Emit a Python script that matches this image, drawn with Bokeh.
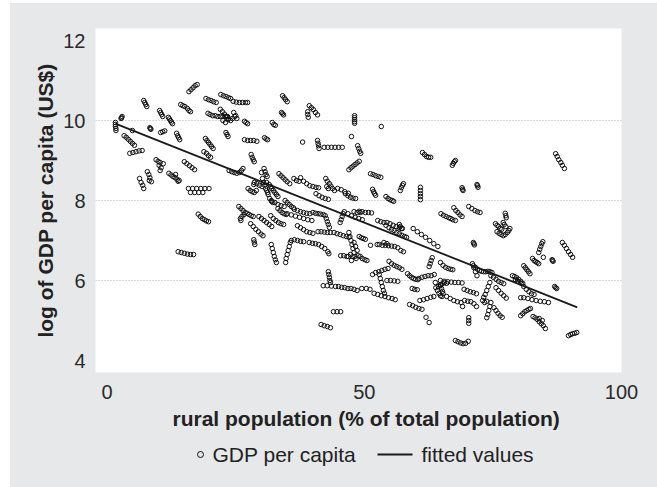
from bokeh.plotting import figure
from bokeh.layouts import column
from bokeh.models import Range1d, FixedTicker, Title, ColumnDataSource
from bokeh.core.properties import value
from bokeh.embed import file_html
from bokeh.resources import INLINE

# Rural population share (%) and log GDP per capita, one line per country series
rural_pct = [
    1.6, 1.6, 1.6, 1.7, 1.7,
    2.7, 2.8, 2.9,
    3.3, 3.7, 4.1, 4.5, 4.9, 5.3, 4.9,
    4.4, 5.0, 5.6, 6.2, 6.8,
    6.3, 6.6, 6.9, 7.1, 7.8, 8.1, 8.3, 8.2, 8.6,
    7.1, 7.3, 7.5, 7.7,
    8.3, 8.4, 8.5,
    9.5, 9.9, 10.3, 10.1, 10.5, 10.3, 10.9,
    10.2, 10.4, 10.6, 10.8,
    10.4, 10.8, 11.2,
    11.9, 12.1, 12.3, 12.5, 12.7,
    12.0, 12.4, 12.8, 13.2, 13.6, 14.0, 13.3, 13.8,
    13.5, 13.7, 13.9, 14.1,
    14.3, 14.7, 15.1, 15.6, 15.9, 16.2,
    15.0, 15.5, 16.0, 16.5, 17.0,
    15.8, 16.6, 17.4, 18.2, 19.0, 19.8, 16.2, 17.0, 17.8, 18.6,
    15.9, 16.3, 16.7, 17.1, 17.5,
    13.8, 14.4, 15.0, 15.6, 16.2, 16.8,
    17.7, 18.1, 18.5, 18.9, 19.3, 19.7,
    19.1, 19.4, 19.7, 20.0, 20.3, 20.6,
    18.8, 19.3, 19.7, 20.1,
    19.2, 19.7, 20.2, 20.7, 21.2,
    19.6, 20.0, 20.5, 21.0, 21.5, 22.0,
    22.1, 22.6, 23.1, 23.6, 24.0,
    22.0, 22.4, 22.8, 23.2, 23.6, 24.0, 24.4, 24.8, 25.2, 22.5, 23.0, 23.5, 24.6, 25.0, 22.5, 23.0, 23.4,
    23.1, 23.3, 23.5,
    24.5, 25.1, 25.7, 26.3, 26.9, 27.3,
    23.7, 24.2, 24.7, 25.2, 25.7, 26.1, 26.4,
    25.6, 26.0, 26.4, 26.8, 27.2, 27.6, 28.0, 28.4, 26.2, 26.0, 25.9, 26.6,
    27.9, 28.4, 28.9, 29.4, 29.9, 30.3,
    28.5, 28.6, 28.7,
    26.7, 27.0, 27.3,
    26.7, 27.3, 27.9, 28.5, 29.1,
    28.0, 28.2, 28.4, 28.6,
    27.4, 27.8, 28.2, 28.6, 29.0, 28.5,
    34.1, 34.4, 34.7, 35.0,
    33.9, 34.1, 34.3,
    32.1, 32.4, 32.7,
    30.6, 30.9, 31.2,
    39.0, 39.0, 39.1,
    39.3, 39.7, 40.1, 40.5, 40.9,
    48.1, 48.1, 48.1, 48.1, 48.1,
    53.3, 47.5, 38.0,
    40.9, 41.0, 41.1, 41.2,
    42.2, 42.9, 43.6, 44.3, 45.0, 45.7,
    48.7, 48.9, 49.1, 49.3,
    47.0, 47.4, 47.8, 48.2, 48.6, 49.0,
    51.2, 51.7, 52.2, 52.7, 53.2,
    61.3, 61.7, 62.1, 62.5, 62.9,
    51.6, 51.8, 52.0, 52.2,
    54.2, 54.6, 55.0, 55.4, 55.7,
    57.0, 57.2, 57.4, 57.6,
    60.9, 60.9, 60.9, 60.9, 60.9,
    46.3, 46.8, 47.3, 47.8, 48.3,
    40.6, 41.2, 41.8, 42.4, 43.0,
    42.5, 42.8, 43.2, 43.5, 43.8, 44.2, 42.7, 43.0,
    44.8, 45.5, 46.2, 46.9,
    37.6, 38.2, 38.8, 39.4, 40.0, 40.6, 41.1,
    33.4, 33.8, 34.2, 34.6, 35.0, 35.5,
    30.0, 30.2, 30.4, 30.6, 30.8, 31.0, 31.2, 31.5, 31.8, 32.0, 32.3, 32.6, 32.9, 33.2, 31.0, 31.3, 31.6, 31.9, 32.2,
    30.5, 30.7, 30.9, 31.1,
    28.6, 29.1, 29.6, 30.1,
    36.3, 36.8, 37.3,
    33.2, 33.6, 34.0, 34.4, 34.8,
    32.0, 32.6, 33.2, 33.8, 34.4,
    35.0, 35.8, 36.6, 37.4, 38.2, 39.0, 39.8,
    40.0, 40.5, 41.0, 41.5, 42.0,
    42.4, 42.6, 42.8, 43.0, 43.2,
    45.3, 45.5, 45.7, 45.9, 46.1,
    46.8, 47.5, 48.2, 48.9, 49.6,
    49.0, 49.6, 50.2, 50.8, 51.4,
    52.6, 53.2, 53.8, 54.4, 55.0, 55.6, 56.2, 56.8, 57.4,
    54.2, 54.8, 55.3, 55.8, 56.3, 56.8, 57.3, 57.8, 58.2,
    56.8, 57.0, 57.2,
    59.5, 60.3, 61.1, 61.9, 62.7, 63.5, 64.3,
    64.9, 65.4, 65.9, 66.4, 66.8, 67.2, 67.7,
    67.4, 67.8, 68.2, 68.6, 69.0,
    70.3, 70.9, 71.5, 72.0, 72.5,
    77.4, 77.5, 77.6,
    75.5, 75.8, 76.1, 76.4, 76.7, 75.8, 76.2, 76.6, 77.0, 77.4, 77.8, 78.1, 78.3, 77.5, 77.2, 77.0,
    71.2, 71.3, 71.4,
    83.9, 84.1, 84.3, 84.5, 84.7,
    88.5, 88.9, 89.3, 89.7, 90.1, 90.5,
    86.5, 86.6, 86.7,
    82.7, 83.0, 83.3, 83.6, 83.9, 84.8,
    81.0, 81.3, 81.6, 81.9, 82.2,
    78.8, 79.2, 79.6, 80.0, 80.4, 80.8, 79.4, 79.8,
    80.5, 81.0, 81.5, 82.0, 82.5, 83.0,
    81.0, 81.8, 82.6, 83.4, 84.2, 85.0, 85.8, 80.4,
    87.0, 87.2, 87.4,
    80.4, 80.8, 81.2, 81.6, 82.0, 82.3,
    82.8, 83.2, 83.6, 84.0, 84.4, 84.8, 85.2, 84.0, 84.6,
    89.7, 90.1, 90.5, 90.9, 91.3,
    87.2, 87.5, 87.8, 88.2, 88.5, 88.9,
    67.1, 67.3, 67.5, 67.7,
    69.0, 69.1, 69.2,
    71.9, 72.0, 72.1,
    64.8, 65.3, 65.8, 66.3, 66.8, 67.2,
    64.8, 65.5, 66.2, 66.9, 67.6, 68.3, 69.0,
    64.8, 65.0, 65.2,
    65.3, 66.0, 66.7, 67.4, 68.1, 68.8, 69.1,
    69.4, 70.0, 70.6, 71.2, 71.8,
    69.5, 70.1, 70.7, 71.3, 71.8,
    70.3, 70.3, 70.3,
    67.7, 68.2, 68.7, 69.2, 69.7, 70.2,
    71.2, 71.6, 72.0, 72.4, 72.8, 73.2, 73.6, 74.0, 74.4, 74.8,
    71.0, 71.3, 71.6, 71.9,
    74.6, 75.1, 75.6, 76.1, 76.6, 77.1,
    74.4, 74.1, 73.8, 73.5, 73.2,
    75.6, 76.1, 76.6, 77.1, 77.6,
    73.0, 73.4, 73.8,
    74.6, 74.4, 74.2, 74.0, 73.8,
    75.2, 75.6, 76.0, 76.4, 76.8,
    31.9, 32.1, 32.3, 32.5, 32.7, 32.9,
    35.6, 35.4, 35.2, 35.0, 34.8, 34.7,
    35.8, 36.4, 37.0, 37.6, 38.2,
    37.0, 37.6, 38.2, 38.8, 39.4, 40.0,
    39.3, 39.9, 40.5, 41.1, 41.7, 42.3, 42.9, 43.1,
    41.0, 41.6, 42.2, 42.8, 43.4,
    44.1, 44.7, 45.3, 45.9, 46.5, 47.0,
    47.0, 47.2, 47.4, 47.6, 47.8, 48.0, 48.2, 48.4, 47.3, 47.8, 48.8, 49.2, 48.6, 48.3, 48.0, 49.6, 50.1, 50.5, 46.9, 47.5,
    49.0, 49.4, 49.8, 50.2,
    45.4, 46.0, 46.6,
    51.2, 52.5,
    52.9, 53.5, 54.1, 54.7, 55.3, 55.9, 56.5, 57.1, 57.6, 53.8, 54.4,
    54.8, 55.3, 55.8, 56.3, 56.8, 57.3,
    51.6, 52.2, 52.8, 53.4, 54.0, 54.6,
    52.9, 53.1, 53.3, 53.5, 53.7, 53.9,
    51.9, 52.6, 53.3, 54.0, 54.7, 55.4, 56.0,
    54.4, 55.1, 55.8, 56.5,
    42.0, 42.8, 43.6, 44.4, 45.0, 45.6, 46.2, 46.8, 47.4, 48.0, 48.6, 49.5, 50.4, 51.1,
    43.0, 43.1, 43.2, 43.3, 43.4,
    44.0, 44.7, 45.4,
    41.6, 42.2, 42.8, 43.4,
    58.8, 59.4, 60.0, 60.6, 61.2,
    60.8, 61.5, 62.2, 62.9, 63.5,
    62.0, 62.6,
    58.4, 58.8, 59.2, 59.6, 60.0, 60.4,
    60.6, 61.2, 61.8, 62.4, 63.0, 63.6, 63.8,
    62.6, 62.8, 63.0, 63.2,
    63.9, 64.2, 64.5, 64.8, 65.1, 64.4, 64.8, 65.2, 65.6, 66.0,
    31.8, 32.3, 32.8, 33.3, 33.8, 34.3,
    29.5, 30.0, 30.5, 31.0, 31.5, 32.0,
    34.6, 35.0, 35.4, 35.8, 36.2,
    36.4, 37.0, 37.6, 38.2, 38.8, 39.4,
    48.0, 48.6, 49.2,
    59.3, 59.8, 60.3,
]

log_gdp = [
    9.95, 9.9, 9.85, 9.8, 9.75,
    10.05, 10.07, 10.1,
    9.62, 9.58, 9.53, 9.48, 9.43, 9.38, 9.75,
    9.18, 9.2, 9.22, 9.24, 9.25,
    8.55, 8.45, 8.38, 8.3, 8.72, 8.65, 8.57, 8.5, 8.47,
    10.5, 10.45, 10.4, 10.35,
    9.82, 9.8, 9.78,
    9.02, 8.98, 8.95, 8.88, 8.82, 8.75, 8.92,
    10.25, 10.2, 10.15, 10.1,
    9.7, 9.72, 9.74,
    10.08, 10.04, 10.0, 9.96, 9.92,
    8.68, 8.64, 8.6, 8.57, 8.53, 8.5, 8.65, 8.48,
    9.68, 9.62, 9.57, 9.52,
    10.4, 10.37, 10.35, 10.3, 10.25, 10.22,
    8.97, 8.92, 8.87, 8.82, 8.77,
    8.3, 8.3, 8.3, 8.3, 8.3, 8.3, 8.2, 8.2, 8.2, 8.2,
    10.72, 10.77, 10.82, 10.87, 10.9,
    6.72, 6.7, 6.68, 6.66, 6.65, 6.65,
    7.66, 7.6, 7.55, 7.52, 7.49, 7.47,
    9.55, 9.5, 9.45, 9.4, 9.35, 9.3,
    9.22, 9.18, 9.12, 9.08,
    10.55, 10.52, 10.5, 10.47, 10.45,
    10.18, 10.15, 10.12, 10.12, 10.1, 10.1,
    10.65, 10.62, 10.6, 10.57, 10.55,
    10.28, 10.22, 10.16, 10.1, 10.05, 10.0, 10.05, 10.1, 10.05, 10.0, 9.95, 10.02, 10.2, 10.12, 10.1, 10.1, 10.1,
    9.7, 9.65, 9.6,
    10.48, 10.46, 10.45, 10.45, 10.45, 10.45,
    8.75, 8.72, 8.7, 8.68, 8.7, 8.75, 8.8,
    7.85, 7.8, 7.75, 7.7, 7.68, 7.65, 7.62, 7.6, 7.6, 7.5, 7.55, 7.65,
    7.42, 7.35, 7.28, 7.22, 7.16, 7.12,
    7.02, 6.96, 6.9,
    9.98, 9.95, 9.92,
    9.52, 9.5, 9.5, 9.5, 9.48,
    9.15, 9.08, 9.02, 8.97,
    8.3, 8.25, 8.22, 8.2, 8.25, 8.4,
    10.62, 10.57, 10.52, 10.47,
    10.2, 10.17, 10.14,
    9.95, 9.9, 9.88,
    9.57, 9.54, 9.52,
    10.22, 10.15, 10.08,
    10.37, 10.32, 10.27, 10.2, 10.14,
    10.12, 10.07, 10.02, 9.97, 9.93,
    9.85, 9.6, 9.46,
    9.5, 9.43, 9.37, 9.3,
    9.33, 9.33, 9.33, 9.33, 9.33, 9.33,
    9.37, 9.3, 9.23, 9.18,
    8.77, 8.82, 8.86, 8.9, 8.94, 8.98,
    8.67, 8.65, 8.62, 8.6, 8.58,
    9.2, 9.15, 9.1, 9.08, 9.08,
    8.28, 8.22, 8.17, 8.13,
    8.1, 8.05, 8.02, 8.0, 7.98,
    8.25, 8.32, 8.38, 8.42,
    8.33, 8.25, 8.17, 8.1, 8.02,
    8.17, 8.12, 8.08, 8.06, 8.05,
    8.17, 8.12, 8.08, 8.05, 8.03,
    8.55, 8.48, 8.42, 8.36, 8.3, 8.25, 8.35, 8.3,
    8.3, 8.27, 8.22, 8.18,
    8.57, 8.48, 8.42, 8.37, 8.35, 8.33, 8.32,
    8.67, 8.62, 8.57, 8.52, 8.47, 8.42,
    8.7, 8.55, 8.45, 8.38, 8.3, 8.25, 8.2, 8.4, 8.35, 8.3, 8.25, 8.2, 8.15, 8.1, 8.45, 8.15, 8.05, 8.0, 7.95,
    8.8, 8.72, 8.65, 8.6,
    8.45, 8.42, 8.38, 8.35,
    8.55, 8.5, 8.48,
    7.8, 7.75, 7.7, 7.67, 7.65,
    7.98, 7.95, 7.9, 7.87, 7.85,
    7.67, 7.64, 7.61, 7.58, 7.55, 7.52, 7.5,
    7.7, 7.68, 7.67, 7.66, 7.65,
    7.62, 7.55, 7.47, 7.4, 7.33,
    7.45, 7.52, 7.6, 7.67, 7.72,
    7.67, 7.62, 7.58, 7.55, 7.52,
    7.73, 7.72, 7.7, 7.7, 7.69,
    7.5, 7.47, 7.45, 7.45, 7.42, 7.38, 7.35, 7.32, 7.3,
    7.38, 7.32, 7.28, 7.25, 7.2, 7.17, 7.13, 7.1, 7.08,
    7.4, 7.35, 7.3,
    7.3, 7.22, 7.15, 7.08, 7.0, 6.92, 6.85,
    7.67, 7.63, 7.6, 7.57, 7.55, 7.52, 7.5,
    7.82, 7.75, 7.7, 7.64, 7.6,
    7.85, 7.8, 7.75, 7.72, 7.7,
    7.68, 7.62, 7.57,
    7.42, 7.38, 7.35, 7.3, 7.28, 7.22, 7.18, 7.15, 7.12, 7.15, 7.2, 7.25, 7.3, 7.35, 7.4, 7.45,
    6.95, 6.92, 6.89,
    6.7, 6.78, 6.85, 6.92, 6.97,
    6.95, 6.88, 6.8, 6.72, 6.65, 6.58,
    6.52, 6.5, 6.48,
    6.55, 6.5, 6.47, 6.45, 6.42, 6.58,
    6.37, 6.32, 6.27, 6.22, 6.17,
    6.12, 6.1, 6.07, 6.03, 5.98, 5.93, 6.02, 5.98,
    5.93, 5.85, 5.78, 5.72, 5.67, 5.65,
    5.57, 5.55, 5.52, 5.5, 5.48, 5.47, 5.45, 5.57,
    5.85, 5.82, 5.8,
    5.12, 5.17, 5.22, 5.25, 5.28, 5.3,
    5.1, 5.07, 5.03, 4.97, 4.92, 4.87, 4.8, 5.05, 5.0,
    4.62, 4.65, 4.67, 4.68, 4.7,
    9.17, 9.1, 9.02, 8.95, 8.88, 8.8,
    8.88, 8.93, 8.97, 9.0,
    8.32, 8.28, 8.25,
    8.4, 8.37, 8.33,
    6.45, 6.38, 6.33, 6.3, 6.28, 6.27,
    6.0, 5.98, 5.97, 5.96, 5.95, 5.95, 5.94,
    5.87, 5.8, 5.73,
    5.67, 5.6, 5.55, 5.5, 5.47, 5.45, 5.35,
    5.78, 5.75, 5.72, 5.7, 5.67,
    5.5, 5.48, 5.47, 5.42, 5.35,
    5.07, 5.0, 4.93,
    4.5, 4.47, 4.44, 4.42, 4.43, 4.48,
    6.37, 6.33, 6.28, 6.25, 6.23, 6.22, 6.22, 6.23, 6.22, 6.2,
    6.42, 6.32, 6.22, 6.12,
    6.12, 6.08, 6.03, 5.98, 5.95, 5.92,
    5.95, 5.85, 5.75, 5.65, 5.58,
    5.82, 5.75, 5.68, 5.62, 5.56,
    5.5, 5.45, 5.48,
    5.45, 5.35, 5.25, 5.15, 5.07,
    5.32, 5.25, 5.18, 5.12, 5.08,
    6.9, 6.8, 6.7, 6.6, 6.52, 6.45,
    6.95, 6.85, 6.75, 6.65, 6.55, 6.45,
    7.0, 7.02, 7.0, 6.98, 6.97,
    7.37, 7.32, 7.27, 7.22, 7.2, 7.18,
    6.95, 6.93, 6.92, 6.9, 6.85, 6.8, 6.72, 6.67,
    7.22, 7.22, 7.21, 7.2, 7.2,
    7.2, 7.17, 7.15, 7.12, 7.1, 7.08,
    7.2, 7.1, 7.0, 6.9, 6.8, 6.7, 6.6, 6.55, 6.65, 6.6, 6.62, 6.6, 6.75, 6.85, 6.95, 6.55, 6.52, 6.5, 6.6, 6.5,
    7.1, 7.07, 7.05, 7.03,
    6.62, 6.62, 6.6,
    6.88, 6.9,
    6.9, 6.88, 6.88, 6.87, 6.86, 6.85, 6.82, 6.75, 6.72, 6.95, 6.92,
    6.48, 6.42, 6.38, 6.35, 6.32, 6.28,
    6.15, 6.2, 6.22, 6.25, 6.28, 6.3,
    6.15, 6.05, 5.95, 5.85, 5.75, 5.68,
    5.68, 5.65, 5.62, 5.6, 5.57, 5.55, 5.52,
    6.0, 6.0, 5.99, 5.98,
    5.87, 5.87, 5.86, 5.85, 5.85, 5.83, 5.82, 5.8, 5.8, 5.78, 5.75, 5.8, 5.8, 5.78,
    6.22, 6.15, 6.08, 6.0, 5.95,
    5.22, 5.22, 5.22,
    4.9, 4.87, 4.85, 4.82,
    5.4, 5.37, 5.33, 5.3, 5.28,
    5.5, 5.52, 5.55, 5.58, 5.6,
    5.08, 4.95,
    6.17, 6.12, 6.08, 6.05, 6.03, 6.02,
    6.05, 6.08, 6.1, 6.12, 6.12, 6.15, 5.95,
    6.35, 6.42, 6.5, 6.57,
    5.82, 5.75, 5.68, 5.62, 5.6, 5.85, 5.9, 5.92, 5.95, 5.93,
    7.62, 7.55, 7.5, 7.45, 7.42, 7.4,
    7.6, 7.55, 7.5, 7.45, 7.4, 7.35,
    8.0, 7.95, 7.9, 7.85, 7.82,
    7.78, 7.75, 7.72, 7.7, 7.68, 7.67,
    7.72, 7.7, 7.7,
    5.8, 5.78, 5.77,
]

# Linear fit drawn across the observed range
fit_x = [1.6, 91.4]
fit_y = [9.92, 5.33]

x_ticks = [0, 50, 100]
y_ticks = [4, 6, 8, 10, 12]
grid_ticks = [6, 8, 10]
legend_labels = ["GDP per capita", "fitted values"]

FONT = "Liberation Sans"
PANEL = "#e7e8ea"
INK = "#222222"
MARK = "#111111"

# ---- scatter panel -------------------------------------------------------
p = figure(
    width=647, height=436,
    x_range=Range1d(-2.27, 100.0), y_range=Range1d(3.7, 12.3),
    output_backend="svg", toolbar_location=None,
    min_border_left=85, min_border_right=36, min_border_top=25, min_border_bottom=67,
    background_fill_color="white", border_fill_color=PANEL, outline_line_color=None,
)

src = ColumnDataSource(data=dict(x=rural_pct, y=log_gdp))
p.scatter("x", "y", source=src, marker="circle", size=4.5, fill_color=None,
          line_color=MARK, line_width=1.0)
p.line(fit_x, fit_y, line_width=1.8, line_color="#1a1a1a")

p.xaxis.ticker = FixedTicker(ticks=x_ticks)
p.yaxis.ticker = FixedTicker(ticks=y_ticks)
for ax in (p.xaxis[0], p.yaxis[0]):
    ax.axis_line_color = None
    ax.major_tick_line_color = None
    ax.minor_tick_line_color = None
    ax.major_tick_in = 0
    ax.major_tick_out = 0
    ax.major_label_text_font = FONT
    ax.major_label_text_font_size = "20px"
    ax.major_label_text_color = "#2a2a2a"
p.yaxis.major_label_standoff = 10
p.xaxis.major_label_standoff = 12

p.yaxis.axis_label = "log of GDP per capita (US$)"
p.yaxis.axis_label_text_font = FONT
p.yaxis.axis_label_text_font_size = "21px"
p.yaxis.axis_label_text_font_style = "bold"
p.yaxis.axis_label_text_color = INK
p.yaxis.axis_label_standoff = 3

p.xgrid.visible = False
p.ygrid.ticker = FixedTicker(ticks=grid_ticks)
p.ygrid.grid_line_color = "#b0b0b0"
p.ygrid.grid_line_dash = "1 2"
p.ygrid.grid_line_width = 1

xtitle = Title(text="rural population (% of total population)", align="left", offset=77,
               text_font=FONT, text_font_size="21px", text_font_style="bold",
               text_color=INK, standoff=6)
p.add_layout(xtitle, "below")

# ---- legend strip (its frame lines up with the scatter frame; x in page px) --
lg = figure(
    width=647, height=48, x_range=Range1d(95, 621), y_range=Range1d(48, 0),
    output_backend="svg", toolbar_location=None,
    x_axis_type=None, y_axis_type=None,
    min_border_left=85, min_border_right=36, min_border_top=0, min_border_bottom=0,
    background_fill_color=None, border_fill_color=PANEL, outline_line_color=None,
)
lg.xgrid.visible = False
lg.ygrid.visible = False

lg.scatter(x=[200], y=[15], marker="circle", size=6, fill_color=None,
           line_color=MARK, line_width=1)
lg.segment(x0=[377], y0=[15], x1=[412], y1=[15], line_width=1.8, line_color="#1a1a1a")
lg.text(x=[212, 421], y=[15, 15], text=legend_labels,
        text_font=value(FONT), text_font_size="21px", text_color=INK,
        text_align="left", text_baseline="middle")

page = column(p, lg, spacing=0, margin=(3, 0, 0, 10),
              styles={"background-color": PANEL})
open("out.html", "w").write(file_html(page, INLINE))
